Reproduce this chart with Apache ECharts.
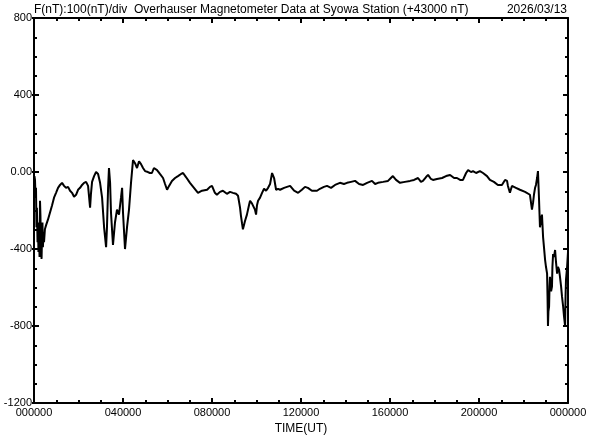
<!DOCTYPE html>
<html><head><meta charset="utf-8">
<script src="https://cdn.jsdelivr.net/npm/echarts@6/dist/echarts.min.js"></script>
<style>html,body{margin:0;padding:0;background:#fff}#c{width:592px;height:440px}</style>
</head><body><div id="c"></div>
<script>
var titleText = 'F(nT):100(nT)/div  Overhauser Magnetometer Data at Syowa Station (+43000 nT)';
var dateText = '2026/03/13';
var xAxisName = 'TIME(UT)';
var yTicks = [-1200, -800, -400, 0, 400, 800];
var xTicksHours = [0, 4, 8, 12, 16, 20, 24];
var times = [0.02,0.045,0.07,0.09,0.11,0.13,0.16,0.18,0.20,0.22,0.25,0.27,0.29,0.31,0.34,0.36,0.38,0.40,0.43,0.45,0.49,0.54,
0.63,0.72,0.81,0.90,0.99,1.08,1.17,1.26,1.35,1.44,1.53,1.62,1.71,1.80,1.89,1.98,2.07,2.16,2.25,2.34,2.43,2.52,2.56,2.61,2.70,2.79,2.88,2.97,3.06,3.15,3.24,3.28,3.33,3.37,3.42,3.46,3.55,3.64,3.73,3.82,3.91,3.96,4.00,4.09,4.18,4.27,4.36,4.45,4.54,4.63,4.72,4.81,4.90,4.99,5.12,5.21,5.30,5.39,5.44,5.53,5.66,5.80,5.89,5.98,6.07,6.20,6.34,6.47,6.61,6.70,6.83,7.01,7.19,7.37,7.55,7.78,7.91,8.00,8.13,8.22,8.36,8.49,8.67,8.81,8.94,9.08,9.17,9.26,9.30,9.35,9.39,9.48,9.57,9.66,9.71,9.80,9.84,9.93,9.98,10.02,10.07,10.16,10.25,10.34,10.43,10.52,10.61,10.70,10.74,10.79,10.88,10.97,11.06,11.24,11.37,11.51,11.69,11.87,12.04,12.18,12.31,12.49,12.72,12.85,13.03,13.17,13.35,13.53,13.75,13.93,14.07,14.25,14.43,14.61,14.79,14.97,15.19,15.33,15.46,15.69,15.91,16.04,16.13,16.27,16.45,16.67,16.90,17.08,17.26,17.39,17.48,17.62,17.71,17.84,17.93,18.11,18.34,18.52,18.70,18.88,19.01,19.15,19.28,19.42,19.51,19.64,19.73,19.87,20.04,20.18,20.36,20.49,20.67,20.85,21.03,21.17,21.26,21.30,21.39,21.48,21.66,21.84,22.07,22.29,22.38,22.43,22.47,22.52,22.56,22.61,22.65,22.70,22.74,22.79,22.83,22.88,22.92,22.97,23.01,23.06,23.08,23.10,23.12,23.15,23.17,23.19,23.24,23.28,23.30,23.33,23.37,23.42,23.46,23.51,23.55,23.60,23.64,23.69,23.73,23.78,23.82,23.87,23.89,23.91,23.96,24.0];
var values = [-21,-41,-133,-82,-287,-185,-364,-262,-415,-313,-441,-149,-226,-390,-451,-338,-262,-390,-313,-364,-297,-277,
-246,-210,-174,-133,-108,-82,-67,-56,-72,-82,-77,-97,-108,-128,-118,-92,-82,-67,-56,-51,-72,-185,-113,-51,-21,0,-10,-56,-133,-287,-390,-287,-82,21,-56,-210,-379,-262,-195,-221,-133,-82,-210,-400,-287,-195,-56,62,46,21,56,41,21,5,0,-5,-5,21,31,10,-10,-31,-62,-92,-72,-46,-31,-21,-10,-5,-26,-56,-82,-108,-97,-92,-77,-72,-108,-118,-103,-97,-113,-103,-108,-113,-123,-185,-226,-267,-297,-256,-221,-174,-149,-164,-169,-195,-221,-174,-149,-133,-108,-87,-97,-82,-62,-5,-5,-31,-92,-87,-92,-82,-77,-72,-97,-108,-92,-77,-82,-97,-97,-87,-77,-72,-82,-67,-56,-62,-56,-51,-46,-62,-67,-56,-46,-62,-56,-51,-46,-31,-21,-41,-56,-51,-46,-41,-31,-51,-46,-26,-15,-36,-41,-36,-31,-21,-15,-31,-31,-41,-41,-5,10,0,5,-5,5,-5,-21,-41,-51,-67,-67,-41,-46,-72,-108,-72,-82,-92,-103,-118,-195,-159,-118,-82,-67,-31,5,-149,-287,-246,-221,-338,-390,-456,-492,-528,-646,-800,-723,-697,-595,-544,-620,-595,-492,-426,-441,-405,-467,-528,-492,-508,-544,-595,-646,-697,-749,-800,-646,-559,-492,-415];

var FONT = '"Liberation Sans", Arial, sans-serif';
function fmtX(v){ var h = Math.round(v) % 24; return (h < 10 ? '0' : '') + h + '0000'; }
function fmtY(v){ return v === 0 ? '0.00' : String(v); }

var chart = echarts.init(document.getElementById('c'), null, {renderer:'canvas'});
var axisLineStyle = {color:'#000', width:2};
var baseX = {
  type:'value', min:xTicksHours[0], max:xTicksHours[xTicksHours.length-1], interval:4,
  axisLine:{show:true, onZero:false, lineStyle:axisLineStyle},
  axisTick:{show:true, inside:true, length:5, lineStyle:{color:'#000', width:2}},
  minorTick:{show:true, splitNumber:4, length:3, lineStyle:{color:'#000', width:2}},
  splitLine:{show:false}
};
var baseY = {
  type:'value', min:yTicks[0], max:yTicks[yTicks.length-1], interval:400,
  axisLine:{show:true, onZero:false, lineStyle:axisLineStyle},
  axisTick:{show:true, inside:true, length:5, lineStyle:{color:'#000', width:2}},
  minorTick:{show:true, splitNumber:4, length:3, lineStyle:{color:'#000', width:2}},
  splitLine:{show:false}
};
chart.setOption({
  animation:false,
  backgroundColor:'#fff',
  title:[
    {text:titleText, left:34, top:4, padding:0, textStyle:{fontFamily:FONT, fontSize:12, fontWeight:'normal', color:'#000'}},
    {text:dateText, right:25, top:4, padding:0, textStyle:{fontFamily:FONT, fontSize:12, fontWeight:'normal', color:'#000'}}
  ],
  grid:{left:34, right:24, top:18, bottom:32, containLabel:false},
  xAxis:[
    Object.assign({}, baseX, {position:'bottom', name:xAxisName, nameLocation:'middle', nameGap:18,
      nameTextStyle:{fontFamily:FONT, fontSize:12, color:'#000'},
      axisLabel:{show:true, formatter:fmtX, margin:4, fontFamily:FONT, fontSize:11, color:'#000', showMinLabel:true, showMaxLabel:true}}),
    Object.assign({}, baseX, {position:'top', axisLabel:{show:false}})
  ],
  yAxis:[
    Object.assign({}, baseY, {position:'left',
      axisLabel:{show:true, formatter:fmtY, margin:2, fontFamily:FONT, fontSize:11, color:'#000', showMinLabel:true, showMaxLabel:true}}),
    Object.assign({}, baseY, {position:'right', axisLabel:{show:false}}),
    Object.assign({}, baseY, {position:'left', axisLine:{show:false},
      axisTick:{show:true, inside:false, length:2, lineStyle:{color:'#000', width:2}},
      minorTick:{show:false}, axisLabel:{show:false}})
  ],
  series:[{
    type:'line', xAxisIndex:0, yAxisIndex:0, showSymbol:false, symbol:'none', smooth:false,
    lineStyle:{color:'#000', width:2}, clip:true,
    data: times.map(function(t,i){ return [t, values[i]]; })
  }]
});
</script></body></html>
